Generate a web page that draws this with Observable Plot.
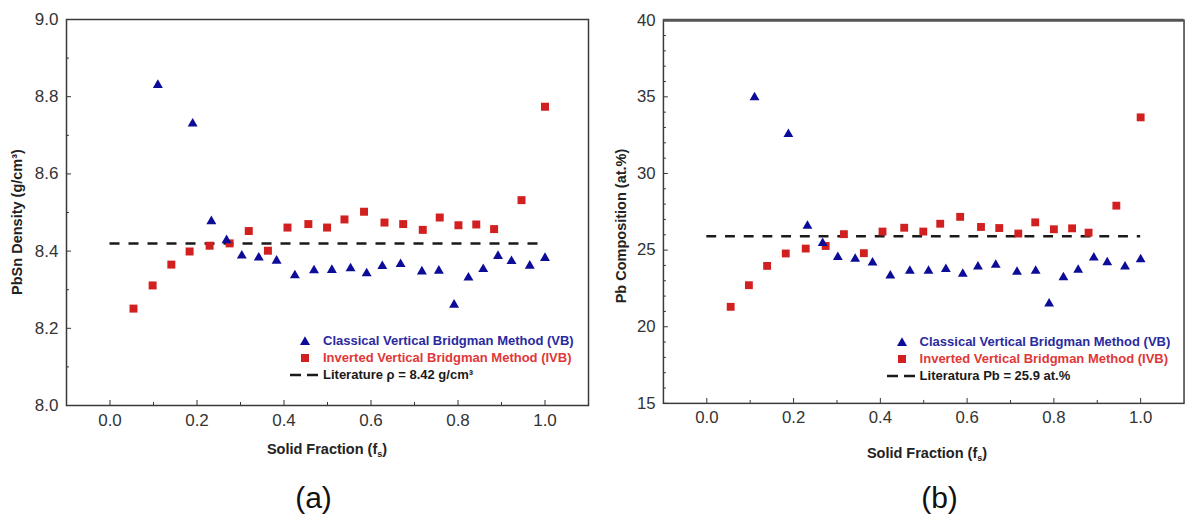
<!DOCTYPE html>
<html><head><meta charset="utf-8">
<script src="https://cdn.jsdelivr.net/npm/d3@7"></script>
<script src="https://cdn.jsdelivr.net/npm/@observablehq/plot@0.6"></script>
<style>
html,body{margin:0;padding:0;background:#fff;overflow:hidden;}
#wrap{position:relative;width:1186px;height:514px;overflow:hidden;font-family:"Liberation Sans",Arial,sans-serif;}
.panel{position:absolute;top:0;}
.ytitle{position:absolute;font-weight:bold;font-size:14.5px;color:#222;white-space:nowrap;transform:translate(-50%,-50%) rotate(-90deg);}
.xtitle{position:absolute;font-weight:bold;font-size:14.5px;color:#222;white-space:nowrap;transform:translate(-50%,-50%);}
.xtitle sub{font-size:9px;vertical-align:-3px;}
.cap{position:absolute;font-size:30px;color:#111;transform:translate(-50%,-50%);white-space:nowrap;}
.leg{position:absolute;font-weight:bold;font-size:13px;white-space:nowrap;height:16px;line-height:16px;}
.leg svg{position:absolute;left:0;top:0;}
.leg span{position:absolute;left:35px;top:0;}
</style></head><body><div id="wrap"></div>
<script>
// ---------- data ----------
const xTicksMajor = [0.0, 0.2, 0.4, 0.6, 0.8, 1.0];
const xTicksMinor = [0.1, 0.3, 0.5, 0.7, 0.9];
const xDomain = [-0.1, 1.1];

// Panel (a): PbSn density
const vbFsA = [0.11,0.19,0.233,0.268,0.303,0.342,0.383,0.425,0.469,0.51,0.553,0.59,0.626,0.668,0.717,0.756,0.791,0.824,0.858,0.892,0.923,0.965,1.0];
const vbDensity = [8.83,8.73,8.477,8.428,8.388,8.383,8.375,8.337,8.35,8.351,8.355,8.342,8.361,8.366,8.347,8.349,8.261,8.331,8.353,8.387,8.374,8.362,8.382];
const ivbFsA = [0.054,0.098,0.141,0.183,0.229,0.275,0.319,0.363,0.408,0.456,0.499,0.539,0.584,0.631,0.674,0.719,0.758,0.801,0.842,0.883,0.946,1.0];
const ivbDensity = [8.251,8.311,8.365,8.399,8.414,8.42,8.452,8.401,8.461,8.47,8.461,8.482,8.502,8.474,8.47,8.455,8.487,8.467,8.469,8.457,8.532,8.774];
const litDensity = 8.42;
const yDomainA = [8.0, 9.0];
const yTicksMajorA = [8.0, 8.2, 8.4, 8.6, 8.8, 9.0];
const yTicksMinorA = [8.1, 8.3, 8.5, 8.7, 8.9];

// Panel (b): Pb composition
const vbFsB = [0.11,0.188,0.232,0.267,0.302,0.342,0.382,0.423,0.468,0.511,0.551,0.59,0.625,0.666,0.715,0.758,0.789,0.822,0.856,0.892,0.923,0.964,1.0];
const vbPb = [34.96,32.57,26.57,25.46,24.54,24.42,24.18,23.33,23.65,23.65,23.75,23.45,23.92,24.03,23.58,23.65,21.51,23.22,23.71,24.5,24.2,23.92,24.39];
const ivbFsB = [0.055,0.097,0.139,0.182,0.228,0.274,0.316,0.362,0.405,0.455,0.499,0.538,0.584,0.632,0.674,0.718,0.757,0.8,0.842,0.88,0.944,1.0];
const ivbPb = [21.3,22.71,23.97,24.78,25.1,25.27,26.04,24.8,26.21,26.46,26.21,26.72,27.17,26.51,26.44,26.08,26.81,26.36,26.42,26.14,27.9,33.66];
const litPb = 25.9;
const yDomainB = [15, 40];
const yTicksMajorB = [15, 20, 25, 30, 35, 40];
const yTicksMinorB = [16,17,18,19,21,22,23,24,26,27,28,29,31,32,33,34,36,37,38,39];

const litSpan = [0.0, 1.0];

const legendLabels = {
  vb: "Classical Vertical Bridgman Method (VB)",
  ivb: "Inverted Vertical Bridgman Method (IVB)",
  litA: "Literature \u03c1 = 8.42 g/cm\u00b3",
  litB: "Literatura Pb = 25.9 at.%"
};

// ---------- style ----------
const BLUE = "#0c0c98";
const RED = "#d21f1f";
const BLUE_TXT = "#2a2aa0";
const RED_TXT = "#e03838";

function makePanel(o) {
  const vb = o.vbX.map((x, i) => ({x, y: o.vbY[i]}));
  const ivb = o.ivbX.map((x, i) => ({x, y: o.ivbY[i]}));
  const marks = [
    Plot.ruleY([o.lit], {x1: litSpan[0], x2: litSpan[1], stroke: "#1a1a1a", strokeWidth: 2.5, strokeDasharray: "10,9"}),
    Plot.dot(ivb, {x: "x", y: "y", symbol: "square", fill: RED, r: 4.5}),
    Plot.dot(vb, {x: "x", y: "y", symbol: "triangle", fill: BLUE, r: 3.7}),
    Plot.axisX(xTicksMajor, {tickSize: -5, tickPadding: 13, tickFormat: d3.format(".1f"), stroke: "#333", fill: "#333"}),
    Plot.axisX(xTicksMinor, {tickSize: -3, tickFormat: () => "", stroke: "#333"}),
    Plot.axisY(o.yMajor, {tickSize: -5, tickPadding: 13, tickFormat: o.fmt, stroke: "#333", fill: "#333"}),
    Plot.axisY(o.yMinor, {tickSize: -3, tickFormat: () => "", stroke: "#333"}),
    Plot.frame({stroke: "#3a3a3a", strokeWidth: 1.5})
  ];
  if (o.thickTop) marks.push(Plot.ruleY([o.yDomain[1]], {stroke: "#555", strokeWidth: 3}));
  return Plot.plot({
    width: o.width, height: 440,
    marginLeft: o.ml, marginRight: o.mr, marginTop: o.mt, marginBottom: o.mb,
    style: {fontFamily: "'Liberation Sans', Arial, sans-serif", fontSize: "17px", color: "#333", background: "transparent", overflow: "visible"},
    x: {domain: xDomain, label: null},
    y: {domain: o.yDomain, label: null},
    marks
  });
}

const wrap = document.getElementById("wrap");

function addPanel(left, svg) {
  const d = document.createElement("div");
  d.className = "panel";
  d.style.left = left + "px";
  d.appendChild(svg);
  wrap.appendChild(d);
}

addPanel(0, makePanel({vbX: vbFsA, vbY: vbDensity, ivbX: ivbFsA, ivbY: ivbDensity, lit: litDensity,
  yDomain: yDomainA, yMajor: yTicksMajorA, yMinor: yTicksMinorA, fmt: d3.format(".1f"),
  width: 593, ml: 66, mr: 5, mt: 19, mb: 35}));
addPanel(593, makePanel({vbX: vbFsB, vbY: vbPb, ivbX: ivbFsB, ivbY: ivbPb, lit: litPb,
  yDomain: yDomainB, yMajor: yTicksMajorB, yMinor: yTicksMinorB, fmt: d3.format("d"),
  width: 602, ml: 71, mr: 2.5, mt: 20, mb: 31, thickTop: true}));

function addHTML(cls, html, x, y) {
  const d = document.createElement("div");
  d.className = cls;
  d.innerHTML = html;
  d.style.left = x + "px";
  d.style.top = y + "px";
  wrap.appendChild(d);
  return d;
}

// axis titles
addHTML("ytitle", "PbSn Density (g/cm\u00b3)", 17, 222);
addHTML("xtitle", "Solid Fraction (f<sub>s</sub>)", 327, 450);
addHTML("ytitle", "Pb Composition (at.%)", 620.5, 226);
addHTML("xtitle", "Solid Fraction (f<sub>s</sub>)", 927, 454);

// captions
addHTML("cap", "(a)", 313.5, 498);
addHTML("cap", "(b)", 939.5, 498);

// legends
function legendRow(x, yc, kind, text, color) {
  let sym;
  if (kind === "tri") sym = `<polygon points="17,3.2 22,11.9 12,11.9" fill="${BLUE}"/>`;
  else if (kind === "sq") sym = `<rect x="13" y="4" width="8" height="8" fill="${RED}"/>`;
  else sym = `<line x1="2" y1="8" x2="30" y2="8" stroke="#1a1a1a" stroke-width="2.5" stroke-dasharray="11,6"/>`;
  const d = addHTML("leg", `<svg width="34" height="16">${sym}</svg><span></span>`, x, yc - 8);
  d.querySelector("span").textContent = text;
  d.querySelector("span").style.color = color;
}
legendRow(288, 341, "tri", legendLabels.vb, BLUE_TXT);
legendRow(288, 357.5, "sq", legendLabels.ivb, RED_TXT);
legendRow(288, 375, "dash", legendLabels.litA, "#1a1a1a");
legendRow(884.6, 342, "tri", legendLabels.vb, BLUE_TXT);
legendRow(884.6, 359, "sq", legendLabels.ivb, RED_TXT);
legendRow(884.6, 376, "dash", legendLabels.litB, "#1a1a1a");
</script></body></html>
